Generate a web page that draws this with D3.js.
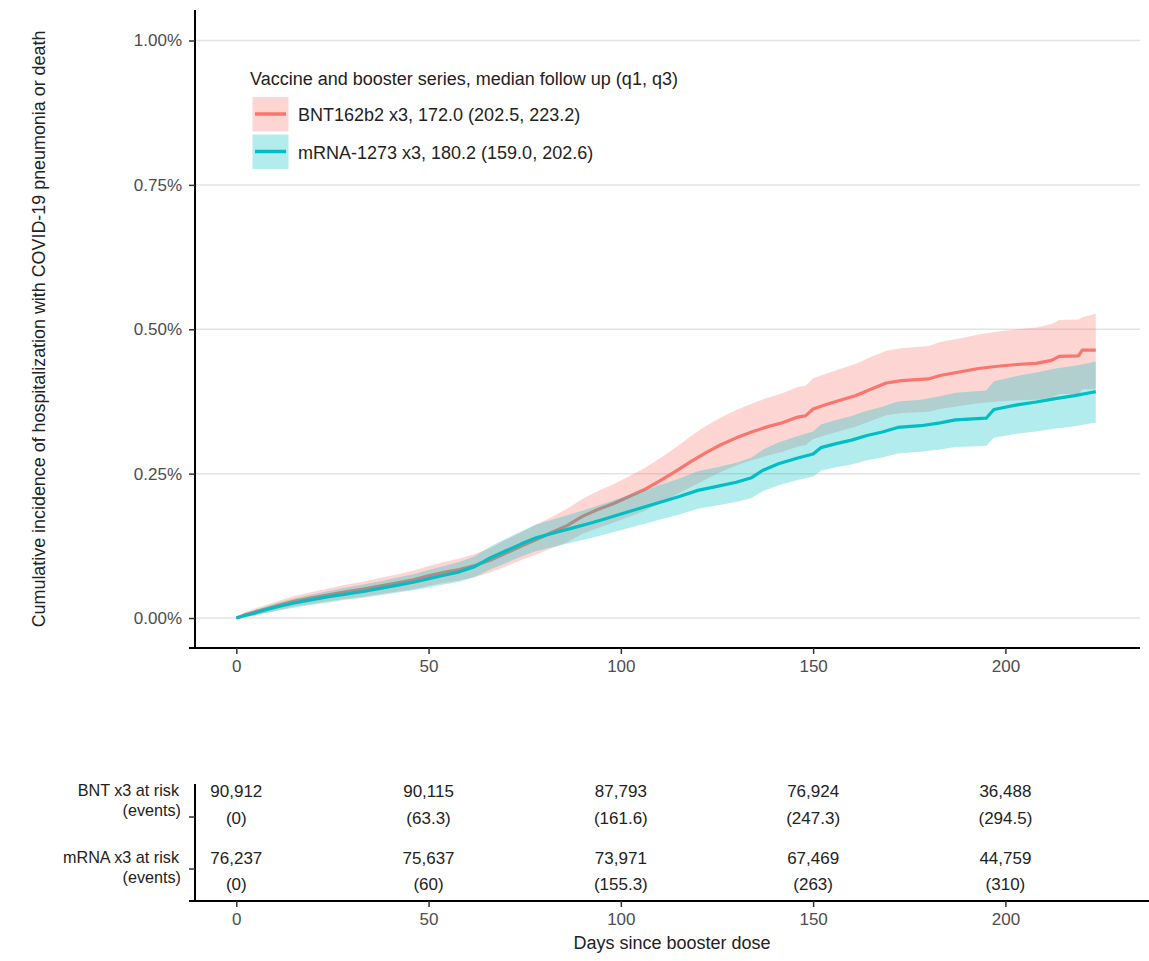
<!DOCTYPE html>
<html>
<head>
<meta charset="utf-8">
<script src="https://cdn.jsdelivr.net/npm/d3@7"></script>
<style>
  html, body { margin: 0; padding: 0; background: #fff; }
  svg { display: block; }
  text { font-family: "Liberation Sans", Arial, Helvetica, sans-serif; }
</style>
</head>
<body>
<svg id="chart" width="1149" height="961"></svg>
<script>
// ---------------- DATA ----------------
const bntDays = [0,2,5,8,11,15,19,24,28,33,37,42,46,50,54,58,62,66,70,74,78,82,86,90,94,98,102,106,110,114,118,122,126,130,134,138,142,146,148,150,153,157,161,165,169,173,180,183,188,193,198,203,208,212,214,219,220,223.5];
const bntEst  = [0,0.005,0.011,0.016,0.022,0.029,0.034,0.040,0.045,0.050,0.055,0.061,0.066,0.073,0.079,0.084,0.091,0.100,0.112,0.124,0.136,0.148,0.160,0.176,0.188,0.198,0.210,0.222,0.237,0.253,0.270,0.286,0.300,0.312,0.322,0.331,0.338,0.348,0.350,0.362,0.369,0.377,0.385,0.396,0.407,0.411,0.414,0.420,0.426,0.432,0.436,0.439,0.441,0.446,0.453,0.454,0.464,0.464];
const bntLo   = [0,0.001,0.005,0.009,0.014,0.020,0.024,0.029,0.033,0.037,0.041,0.046,0.050,0.056,0.061,0.065,0.071,0.079,0.089,0.100,0.110,0.121,0.131,0.146,0.156,0.165,0.175,0.185,0.198,0.212,0.226,0.240,0.253,0.264,0.273,0.281,0.288,0.297,0.299,0.310,0.316,0.324,0.331,0.341,0.351,0.355,0.357,0.362,0.367,0.372,0.375,0.377,0.378,0.382,0.388,0.388,0.396,0.396];
const bntHi   = [0,0.009,0.017,0.023,0.030,0.038,0.044,0.051,0.057,0.063,0.069,0.076,0.082,0.090,0.097,0.103,0.111,0.121,0.135,0.148,0.162,0.175,0.189,0.206,0.220,0.231,0.245,0.259,0.276,0.294,0.314,0.332,0.347,0.360,0.371,0.381,0.389,0.400,0.402,0.415,0.422,0.431,0.440,0.452,0.463,0.467,0.471,0.478,0.484,0.491,0.496,0.500,0.503,0.509,0.516,0.517,0.521,0.527];

const mrnaDays = [0,2,5,8,11,15,19,24,28,33,37,42,46,50,54,58,62,66,70,74,78,83,88,92,96,100,105,110,115,120,125,130,134,137,141,146,150,152,156,160,164,168,172,178,183,187,195,197,203,208,213,218,222,223.5];
const mrnaEst  = [0,0.004,0.009,0.015,0.020,0.026,0.031,0.037,0.041,0.046,0.051,0.057,0.062,0.068,0.074,0.080,0.089,0.104,0.116,0.128,0.139,0.148,0.157,0.164,0.172,0.180,0.190,0.200,0.210,0.221,0.228,0.235,0.243,0.256,0.267,0.277,0.284,0.295,0.302,0.308,0.316,0.322,0.330,0.333,0.338,0.343,0.346,0.361,0.369,0.374,0.380,0.385,0.390,0.392];
const mrnaLo   = [0,0.001,0.005,0.009,0.013,0.018,0.022,0.027,0.031,0.035,0.039,0.044,0.048,0.053,0.058,0.063,0.071,0.084,0.095,0.106,0.116,0.124,0.132,0.138,0.145,0.152,0.161,0.170,0.179,0.189,0.195,0.201,0.208,0.220,0.230,0.239,0.245,0.255,0.261,0.266,0.273,0.278,0.285,0.288,0.292,0.296,0.298,0.312,0.319,0.323,0.328,0.332,0.337,0.338];
const mrnaHi   = [0,0.007,0.014,0.021,0.027,0.034,0.040,0.047,0.052,0.058,0.063,0.070,0.076,0.083,0.090,0.097,0.107,0.124,0.137,0.150,0.162,0.172,0.182,0.190,0.199,0.208,0.219,0.230,0.241,0.254,0.261,0.269,0.278,0.292,0.304,0.315,0.323,0.335,0.343,0.350,0.359,0.366,0.375,0.378,0.384,0.390,0.394,0.410,0.419,0.425,0.432,0.437,0.442,0.444];

const yTicks = [0, 0.25, 0.5, 0.75, 1.0];
const xTicks = [0, 50, 100, 150, 200];

const legendTitle = "Vaccine and booster series, median follow up (q1, q3)";
const legendLabels = ["BNT162b2 x3, 172.0 (202.5, 223.2)", "mRNA-1273 x3, 180.2 (159.0, 202.6)"];
const seriesColors = ["#F8766D", "#00BFC4"];

const riskDays = [0, 50, 100, 150, 200];
const riskRowLabels = [["BNT x3 at risk", "(events)"], ["mRNA x3 at risk", "(events)"]];
const bntAtRisk = [90912, 90115, 87793, 76924, 36488];
const bntEvents = [0, 63.3, 161.6, 247.3, 294.5];
const mrnaAtRisk = [76237, 75637, 73971, 67469, 44759];
const mrnaEvents = [0, 60, 155.3, 263, 310];

const yTitle = "Cumulative incidence of hospitalization with COVID-19 pneumonia or death";
const xTitle = "Days since booster dose";

// ---------------- LAYOUT ----------------
const svg = d3.select("#chart");
svg.append("rect").attr("width", 1149).attr("height", 961).attr("fill", "#fff");

const P = { left: 195, right: 1140, top: 10, bottom: 648 };
const x = d3.scaleLinear().domain([-11, 235]).range([P.left - 1, P.right]);
const y = d3.scaleLinear().domain([-0.0519, 1.0528]).range([P.bottom, P.top]);

const tickColor = "#4d4d4d";
const FONT = "Liberation Sans, Arial, sans-serif";

// gridlines
svg.append("g").selectAll("line").data(yTicks).join("line")
  .attr("x1", P.left).attr("x2", P.right)
  .attr("y1", d => y(d)).attr("y2", d => y(d))
  .attr("stroke", "#e3e3e3").attr("stroke-width", 1.5);

// series
const bnt = bntDays.map((d, i) => ({ d, e: bntEst[i], lo: bntLo[i], hi: bntHi[i] }));
const mrna = mrnaDays.map((d, i) => ({ d, e: mrnaEst[i], lo: mrnaLo[i], hi: mrnaHi[i] }));

const curve = d3.curveLinear;
const area = d3.area().curve(curve).x(p => x(p.d)).y0(p => y(p.lo)).y1(p => y(p.hi));
const line = d3.line().curve(curve).x(p => x(p.d)).y(p => y(p.e));

const plotG = svg.append("g");
plotG.append("path").datum(bnt).attr("d", area).attr("fill", seriesColors[0]).attr("fill-opacity", 0.3);
plotG.append("path").datum(bnt).attr("d", line).attr("fill", "none").attr("stroke", seriesColors[0]).attr("stroke-width", 3.2).attr("stroke-linejoin", "round");
plotG.append("path").datum(mrna).attr("d", area).attr("fill", seriesColors[1]).attr("fill-opacity", 0.3);
plotG.append("path").datum(mrna).attr("d", line).attr("fill", "none").attr("stroke", seriesColors[1]).attr("stroke-width", 3.2).attr("stroke-linejoin", "round");

// axes main
const yAxis = d3.axisLeft(y).tickValues(yTicks).tickSize(6).tickPadding(7)
  .tickFormat(d => d3.format(".2f")(d) + "%");
const gy = svg.append("g").attr("transform", `translate(${P.left},0)`).call(yAxis);
gy.select(".domain").attr("d", `M0,${P.top}V${P.bottom}`).attr("stroke", "#000").attr("stroke-width", 2);
gy.selectAll(".tick line").attr("stroke", "#333").attr("stroke-width", 1.5);
gy.selectAll(".tick text").attr("font-size", 17).attr("fill", tickColor).attr("font-family", FONT);

const xAxis = d3.axisBottom(x).tickValues(xTicks).tickSize(6).tickPadding(6);
const gx = svg.append("g").attr("transform", `translate(0,${P.bottom})`).call(xAxis);
gx.select(".domain").attr("d", `M${P.left - 6},0H${P.right}`).attr("stroke", "#000").attr("stroke-width", 2);
gx.selectAll(".tick line").attr("stroke", "#333").attr("stroke-width", 1.5);
gx.selectAll(".tick text").attr("font-size", 17).attr("fill", tickColor).attr("font-family", FONT);

// y title
svg.append("text")
  .attr("transform", `translate(45,${(P.top + P.bottom) / 2}) rotate(-90)`)
  .attr("text-anchor", "middle").attr("font-size", 17.9).attr("fill", "#222")
  .text(yTitle);

// legend
const lg = svg.append("g");
lg.append("text").attr("x", 250).attr("y", 85).attr("font-size", 18).attr("fill", "#222").text(legendTitle);
legendLabels.forEach((lab, i) => {
  const top = 97 + i * 37.5;
  lg.append("rect").attr("x", 252.5).attr("y", top).attr("width", 36).attr("height", 34.5)
    .attr("fill", seriesColors[i]).attr("fill-opacity", 0.3);
  lg.append("line").attr("x1", 255).attr("x2", 286).attr("y1", top + 17).attr("y2", top + 17)
    .attr("stroke", seriesColors[i]).attr("stroke-width", 3.5);
  lg.append("text").attr("x", 298).attr("y", top + 24).attr("font-size", 18).attr("fill", "#222").text(lab);
});

// ---------------- RISK TABLE ----------------
const R = { top: 784, bottom: 901 };
const rg = svg.append("g");
rg.append("line").attr("x1", P.left).attr("x2", P.left).attr("y1", R.top).attr("y2", R.bottom)
  .attr("stroke", "#000").attr("stroke-width", 2);
const gx2 = svg.append("g").attr("transform", `translate(0,${R.bottom})`).call(xAxis);
gx2.select(".domain").attr("d", `M${P.left - 6},0H1149`).attr("stroke", "#000").attr("stroke-width", 2);
gx2.selectAll(".tick line").attr("stroke", "#333").attr("stroke-width", 1.5);
gx2.selectAll(".tick text").attr("font-size", 17).attr("fill", tickColor).attr("font-family", FONT);

const rowTicks = [817, 869];
rowTicks.forEach(t => rg.append("line").attr("x1", P.left - 6).attr("x2", P.left).attr("y1", t).attr("y2", t)
  .attr("stroke", "#333").attr("stroke-width", 1.5));

const rowBase = [796, 863];
riskRowLabels.forEach((lines, i) => {
  rg.append("text").attr("x", 179).attr("y", rowBase[i]).attr("text-anchor", "end")
    .attr("font-size", 16.2).attr("fill", "#222").text(lines[0]);
  rg.append("text").attr("x", 181).attr("y", rowBase[i] + 20).attr("text-anchor", "end")
    .attr("font-size", 16.2).attr("fill", "#222").text(lines[1]);
});

const fmtN = d3.format(",");
const rows = [[bntAtRisk, bntEvents], [mrnaAtRisk, mrnaEvents]];
const evY = [824, 890];
const nY = [797, 864];
rows.forEach(([nr, ev], i) => {
  rg.append("g").selectAll("text").data(riskDays).join("text")
    .attr("x", d => x(d)).attr("y", nY[i]).attr("text-anchor", "middle")
    .attr("font-size", 17).attr("fill", "#222").text((d, j) => fmtN(nr[j]));
  rg.append("g").selectAll("text").data(riskDays).join("text")
    .attr("x", d => x(d)).attr("y", evY[i]).attr("text-anchor", "middle")
    .attr("font-size", 17).attr("fill", "#222").text((d, j) => "(" + ev[j] + ")");
});

svg.append("text").attr("x", (P.left + 1149) / 2).attr("y", 949).attr("text-anchor", "middle")
  .attr("font-size", 18).attr("fill", "#222").text(xTitle);
</script>
</body>
</html>
